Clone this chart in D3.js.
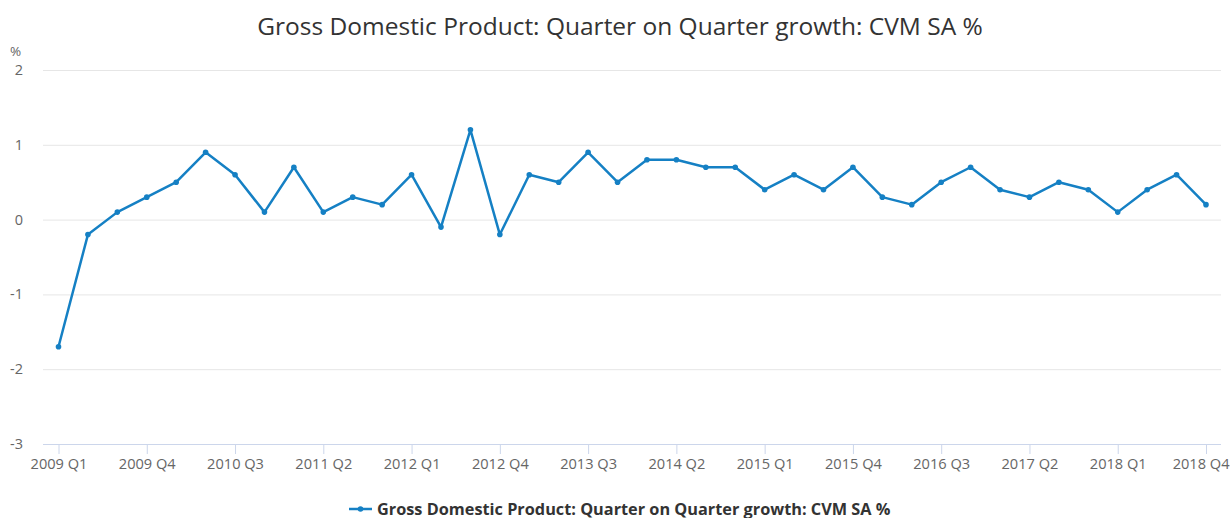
<!DOCTYPE html>
<html>
<head>
<meta charset="utf-8">
<script src="https://cdn.jsdelivr.net/npm/d3@7"></script>
<style>
  body { margin: 0; background: #fff; font-family: "Open Sans", sans-serif; }
</style>
</head>
<body>
<div id="container"></div>
<script>
let w = 1232;
let h = 518;

let quarters = [];
[2009, 2010, 2011, 2012, 2013, 2014, 2015, 2016, 2017, 2018].forEach(function (y) {
  ["Q1", "Q2", "Q3", "Q4"].forEach(function (q) { quarters.push(y + " " + q); });
});

let growth = [
  -1.7, -0.2, 0.1, 0.3,
  0.5, 0.9, 0.6, 0.1,
  0.7, 0.1, 0.3, 0.2,
  0.6, -0.1, 1.2, -0.2,
  0.6, 0.5, 0.9, 0.5,
  0.8, 0.8, 0.7, 0.7,
  0.4, 0.6, 0.4, 0.7,
  0.3, 0.2, 0.5, 0.7,
  0.4, 0.3, 0.5, 0.4,
  0.1, 0.4, 0.6, 0.2
];

let yTicks = [-3, -2, -1, 0, 1, 2];
let seriesName = "Gross Domestic Product: Quarter on Quarter growth: CVM SA %";

let plot = { left: 43, right: 1221, top: 70, bottom: 444 };
let lineColor = "#1580c4";

let svg = d3.select("#container")
  .append("svg")
  .attr("width", w)
  .attr("height", h);

let xScale = d3.scaleLinear()
  .domain([0, quarters.length - 1])
  .range([58.5, 1206]);

let yScale = d3.scaleLinear()
  .domain([-3, 2])
  .range([plot.bottom, plot.top]);

// title
svg.append("text")
  .attr("x", 620)
  .attr("y", 35)
  .attr("text-anchor", "middle")
  .style("font-size", "24.5px")
  .style("fill", "#333")
  .text("Gross Domestic Product: Quarter on Quarter growth: CVM SA %");

// unit label
svg.append("text")
  .attr("x", 10)
  .attr("y", 56)
  .style("font-size", "13.5px")
  .style("fill", "#666")
  .text("%");

// gridlines
svg.append("g")
  .selectAll("line")
  .data(yTicks.filter(d => d !== -3))
  .join("line")
  .attr("x1", plot.left)
  .attr("x2", plot.right)
  .attr("y1", d => yScale(d) + 0.5)
  .attr("y2", d => yScale(d) + 0.5)
  .attr("stroke", "#e6e6e6")
  .attr("stroke-width", 1);

// y labels
svg.append("g")
  .selectAll("text")
  .data(yTicks)
  .join("text")
  .attr("x", 23)
  .attr("y", d => yScale(d) + 5)
  .attr("text-anchor", "end")
  .style("font-size", "14.5px")
  .style("fill", "#666")
  .text(d => d);

// x axis
let xAxis = d3.axisBottom(xScale)
  .tickValues(d3.range(0, quarters.length, 3))
  .tickFormat(i => quarters[i])
  .tickSize(10)
  .tickSizeOuter(0);

let gx = svg.append("g")
  .attr("transform", "translate(0," + plot.bottom + ")")
  .call(xAxis);

gx.select(".domain").remove();
gx.insert("line", ":first-child")
  .attr("x1", plot.left)
  .attr("x2", plot.right)
  .attr("y1", 0.5)
  .attr("y2", 0.5)
  .attr("stroke", "#ccd6eb");
gx.selectAll(".tick line").attr("stroke", "#ccd6eb");
gx.selectAll(".tick text")
  .attr("y", 15)
  .style("font-family", "Open Sans, sans-serif")
  .style("font-size", "14.6px")
  .style("fill", "#666");

// keep the last label inside the chart
gx.selectAll(".tick text")
  .filter(i => i === quarters.length - 1)
  .attr("text-anchor", "end")
  .attr("x", (w - 3) - xScale(quarters.length - 1));

// line
let line = d3.line()
  .x((d, i) => xScale(i))
  .y(d => yScale(d));

svg.append("path")
  .datum(growth)
  .attr("fill", "none")
  .attr("stroke", lineColor)
  .attr("stroke-width", 2.5)
  .attr("stroke-linejoin", "round")
  .attr("d", line);

svg.append("g")
  .selectAll("circle")
  .data(growth)
  .join("circle")
  .attr("cx", (d, i) => xScale(i))
  .attr("cy", d => yScale(d))
  .attr("r", 2.8)
  .attr("fill", lineColor);

// legend
let lg = svg.append("g").attr("transform", "translate(349,509)");
lg.append("line")
  .attr("x1", 0).attr("x2", 23)
  .attr("y1", 0).attr("y2", 0)
  .attr("stroke", lineColor)
  .attr("stroke-width", 2.5);
lg.append("circle")
  .attr("cx", 11.5).attr("cy", 0).attr("r", 2.8)
  .attr("fill", lineColor);
lg.append("text")
  .attr("x", 28)
  .attr("y", 5.5)
  .style("font-size", "16.3px")
  .style("font-weight", "bold")
  .style("fill", "#333")
  .text(seriesName);
</script>
</body>
</html>
